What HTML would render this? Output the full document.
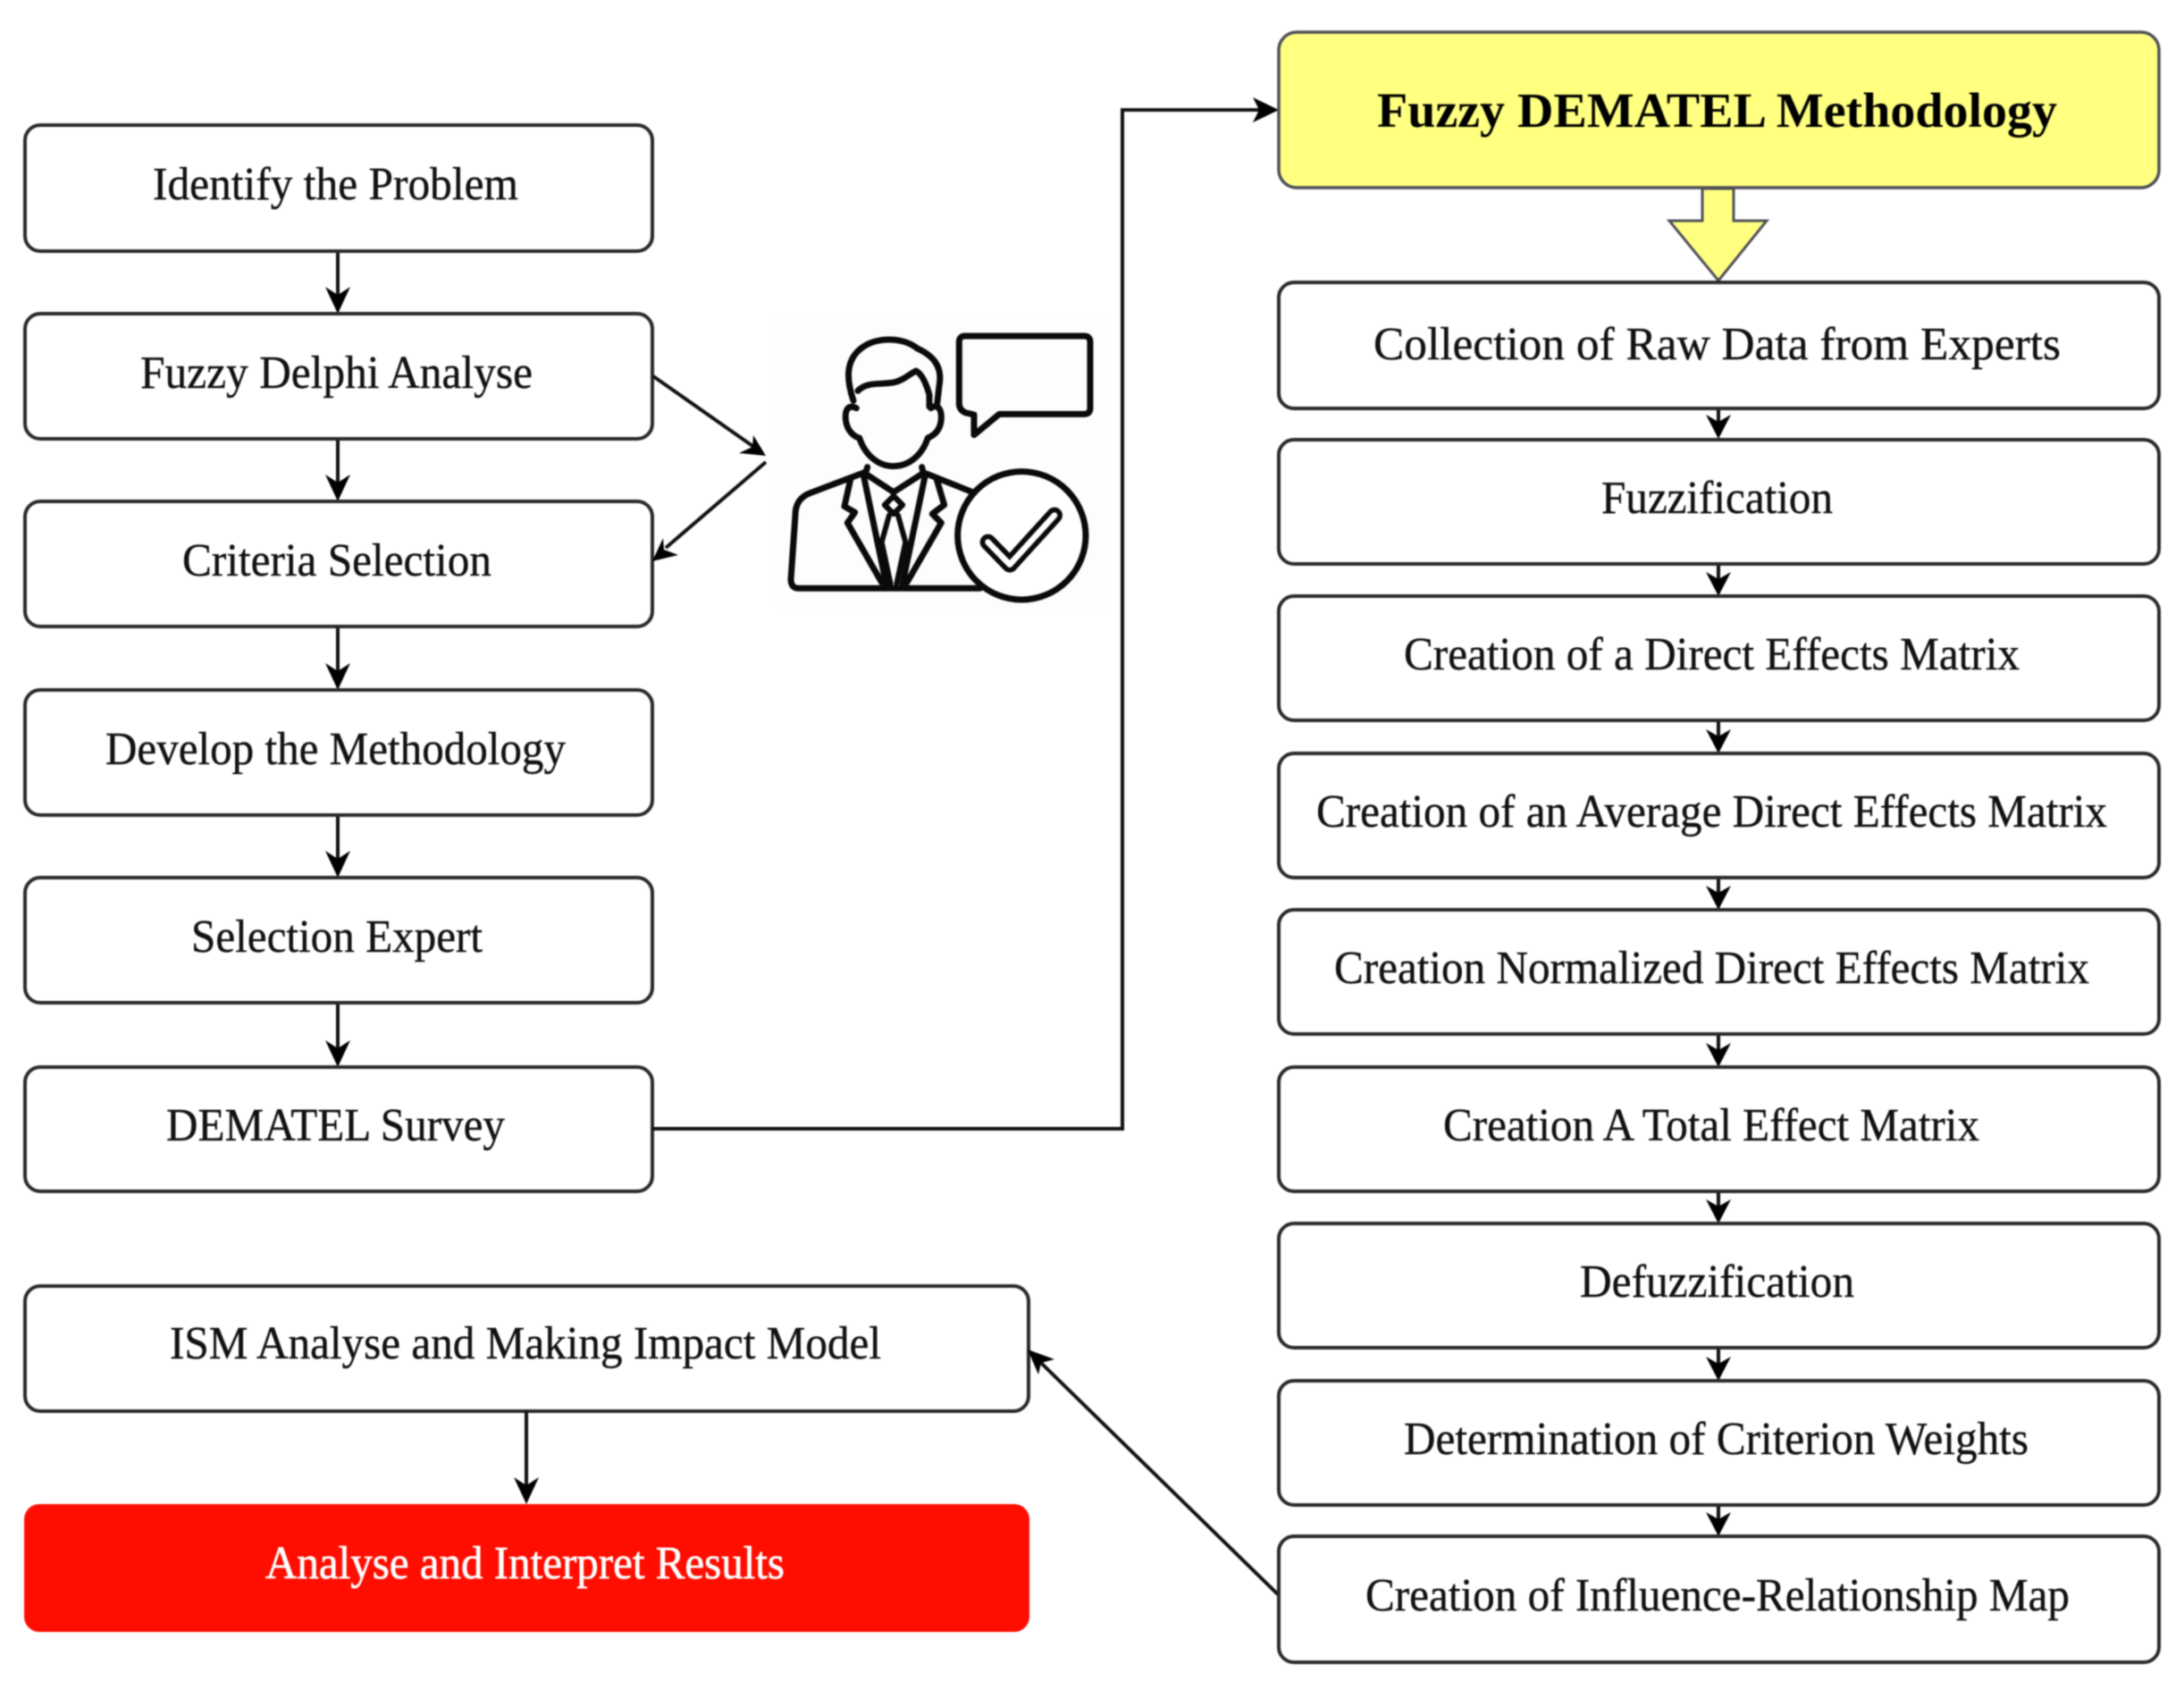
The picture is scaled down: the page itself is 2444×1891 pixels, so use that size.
<!DOCTYPE html>
<html>
<head>
<meta charset="utf-8">
<style>
html,body{margin:0;padding:0;background:#fff;width:2444px;height:1891px;overflow:hidden}
svg{display:block;filter:blur(0.8px)}
text{font-family:"Liberation Serif",serif;font-size:52px;fill:#111;stroke:#111;stroke-width:.4}
.b{fill:#fff;stroke:#2a2a2a;stroke-width:4}
.l{stroke:#111;stroke-width:4;fill:none}
.h{fill:#000;stroke:none}
.ic{fill:none;stroke:#0a0a0a;stroke-width:21;stroke-linejoin:round;stroke-linecap:round}
</style>
</head>
<body>
<svg width="2444" height="1891" viewBox="0 0 2444 1891" xmlns="http://www.w3.org/2000/svg">
<defs>
<path id="ah" class="h" d="M0,0 L-14,-30 L0,-21 L14,-30 Z"/>
<path id="as" class="h" d="M0,0 L-14,-27 L0,-19 L14,-27 Z"/>
</defs>
<rect width="2444" height="1891" fill="#fff"/>

<!-- left column connectors -->
<path class="l" d="M378,281V340M378,491V550M378,701V762M378,912V972M378,1122V1184"/>
<use href="#ah" x="378" y="351"/><use href="#ah" x="378" y="561"/><use href="#ah" x="378" y="772"/><use href="#ah" x="378" y="982"/><use href="#ah" x="378" y="1194"/>

<!-- left boxes -->
<rect class="b" x="28" y="140" width="702" height="141" rx="17"/>
<rect class="b" x="28" y="351" width="702" height="140" rx="17"/>
<rect class="b" x="28" y="561" width="702" height="140" rx="17"/>
<rect class="b" x="28" y="772" width="702" height="140" rx="17"/>
<rect class="b" x="28" y="982" width="702" height="140" rx="17"/>
<rect class="b" x="28" y="1194" width="702" height="139" rx="17"/>
<rect class="b" x="28" y="1439" width="1123" height="140" rx="17"/>
<rect x="27" y="1683" width="1125" height="143" rx="17" fill="#ff0d00"/>

<text x="171" y="223" textLength="409" lengthAdjust="spacingAndGlyphs">Identify the Problem</text>
<text x="157" y="434" textLength="439" lengthAdjust="spacingAndGlyphs">Fuzzy Delphi Analyse</text>
<text x="204" y="644" textLength="346" lengthAdjust="spacingAndGlyphs">Criteria Selection</text>
<text x="118" y="855" textLength="515" lengthAdjust="spacingAndGlyphs">Develop the Methodology</text>
<text x="214" y="1065" textLength="326" lengthAdjust="spacingAndGlyphs">Selection Expert</text>
<text x="186" y="1276" textLength="379" lengthAdjust="spacingAndGlyphs">DEMATEL Survey</text>
<text x="190" y="1520" textLength="796" lengthAdjust="spacingAndGlyphs">ISM Analyse and Making Impact Model</text>
<text x="297" y="1766" textLength="581" lengthAdjust="spacingAndGlyphs" style="fill:#fff;stroke:#fff;stroke-width:.7">Analyse and Interpret Results</text>

<!-- ISM to red -->
<path class="l" d="M589,1579V1672"/>
<use href="#ah" x="589" y="1683"/>

<!-- person connectors -->
<path class="l" d="M731,421L845,501"/>
<path class="h" d="M857,510L827,507L842,500L843,487Z"/>
<path class="l" d="M857,517L745,613"/>
<path class="h" d="M730,628L742,602L743,615L759,621Z"/>

<!-- icon -->
<rect x="868" y="350" width="370" height="330" fill="#fdfdfd"/>
<g transform="translate(840,340) scale(0.3333)">
<path class="ic" d="M345,325C320,250 320,190 370,150C420,110 510,110 560,150C615,175 640,210 635,260L625,345"/>
<path class="ic" d="M360,292C390,260 440,272 480,264C510,258 535,235 555,225C575,235 590,270 600,305V345"/>
<path class="ic" d="M355,350C325,335 315,360 320,395C325,425 345,445 365,450C385,510 430,545 480,545C530,545 575,510 595,450C620,440 640,420 640,380C640,350 625,335 605,350"/>
<path class="ic" d="M392,548L385,570L480,632L580,568L575,548"/>
<path class="ic" d="M385,565L200,635C160,650 150,680 150,710L135,925C135,945 145,955 160,955H770"/>
<path class="ic" d="M590,570L740,630"/>
<path class="ic" d="M335,590L315,680L350,700L325,735L440,935"/>
<path class="ic" d="M625,590L650,675L610,705L640,735L525,935"/>
<path class="ic" d="M380,580L455,940M585,580L510,940"/>
<path class="ic" d="M480,645L510,675L480,705L450,675Z" style="stroke-width:19"/>
<path class="ic" d="M465,710L440,800L470,940M495,710L520,800L490,940" style="stroke-width:18"/>
<path class="ic" d="M720,108H1120Q1140,108 1140,128V350Q1140,370 1120,370H835L750,440V372L720,365Q700,355 700,335V128Q700,108 720,108Z"/>
<circle cx="910" cy="778" r="215" fill="#fff" stroke="#0a0a0a" stroke-width="21"/>
<path d="M797,800L870,875L1020,710" fill="none" stroke="#0a0a0a" stroke-width="54" stroke-linecap="round" stroke-linejoin="round"/>
<path d="M797,800L870,875L1020,710" fill="none" stroke="#fff" stroke-width="20" stroke-linecap="round" stroke-linejoin="round"/>
</g>

<!-- Survey to yellow -->
<path class="l" d="M730,1263H1256V123H1420"/>
<path class="h" d="M1431,123L1402,109L1409,123L1402,137Z"/>

<!-- influence to ISM -->
<path class="l" d="M1431,1785L1165,1525"/>
<path class="h" d="M1150,1510L1180,1521L1165,1525L1162,1538Z"/>

<!-- yellow -->
<rect x="1431" y="36" width="985" height="174" rx="20" fill="#ffff80" stroke="#50505a" stroke-width="3.5"/>
<path d="M1905,211V247H1868L1923,314L1977,247H1940V211Z" fill="#ffff80" stroke="#50505a" stroke-width="3"/>
<text x="1541" y="142" textLength="761" lengthAdjust="spacingAndGlyphs" style="font-weight:bold;fill:#000;stroke:none;font-size:55px">Fuzzy DEMATEL Methodology</text>

<!-- right connectors -->
<path class="l" d="M1923,457V475M1923,632V650M1923,807V826M1923,983V1001M1923,1158V1177M1923,1334V1352M1923,1509V1528M1923,1685V1703"/>
<use href="#as" x="1923" y="491"/><use href="#as" x="1923" y="667"/><use href="#as" x="1923" y="843"/><use href="#as" x="1923" y="1018"/><use href="#as" x="1923" y="1194"/><use href="#as" x="1923" y="1369"/><use href="#as" x="1923" y="1545"/><use href="#as" x="1923" y="1719"/>

<!-- right boxes -->
<rect class="b" x="1431" y="316" width="985" height="141" rx="17"/>
<rect class="b" x="1431" y="492" width="985" height="139" rx="17"/>
<rect class="b" x="1431" y="667" width="985" height="139" rx="17"/>
<rect class="b" x="1431" y="843" width="985" height="139" rx="17"/>
<rect class="b" x="1431" y="1018" width="985" height="139" rx="17"/>
<rect class="b" x="1431" y="1194" width="985" height="139" rx="17"/>
<rect class="b" x="1431" y="1369" width="985" height="139" rx="17"/>
<rect class="b" x="1431" y="1545" width="985" height="139" rx="17"/>
<rect class="b" x="1431" y="1719" width="985" height="141" rx="17"/>

<text x="1537" y="402" textLength="769" lengthAdjust="spacingAndGlyphs">Collection of Raw Data from Experts</text>
<text x="1792" y="574" textLength="259" lengthAdjust="spacingAndGlyphs">Fuzzification</text>
<text x="1571" y="749" textLength="689" lengthAdjust="spacingAndGlyphs">Creation of a Direct Effects Matrix</text>
<text x="1473" y="925" textLength="885" lengthAdjust="spacingAndGlyphs">Creation of an Average Direct Effects Matrix</text>
<text x="1493" y="1100" textLength="845" lengthAdjust="spacingAndGlyphs">Creation Normalized Direct Effects Matrix</text>
<text x="1615" y="1276" textLength="600" lengthAdjust="spacingAndGlyphs">Creation A Total Effect Matrix</text>
<text x="1768" y="1451" textLength="307" lengthAdjust="spacingAndGlyphs">Defuzzification</text>
<text x="1571" y="1627" textLength="699" lengthAdjust="spacingAndGlyphs">Determination of Criterion Weights</text>
<text x="1528" y="1802" textLength="788" lengthAdjust="spacingAndGlyphs">Creation of Influence-Relationship Map</text>
</svg>
</body>
</html>
